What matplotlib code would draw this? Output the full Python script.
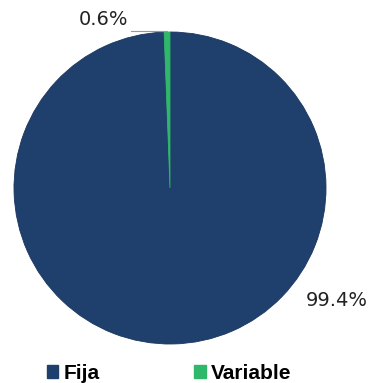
import matplotlib.pyplot as plt
from matplotlib.patches import Patch

labels = ['Fija', 'Variable']
values = [99.4, 0.6]
colors = ['#1f3f6d', '#2fb86a']
pct_labels = ['99.4%', '0.6%']

fig = plt.figure(figsize=(3.72, 3.83), dpi=100)
ax = fig.add_axes([14 / 372, 39 / 383, 312 / 372, 312 / 383])

wedges, _ = ax.pie(values, colors=colors, startangle=90, counterclock=False,
                   radius=1.0, wedgeprops=dict(linewidth=0.6, edgecolor='#1a355d'))
wedges[1].set_edgecolor('#2fb86a')
ax.set_xlim(-1, 1)
ax.set_ylim(-1, 1)
ax.set_aspect('equal')

# percentage labels
ax.text(0.87, -0.72, pct_labels[0], fontsize=14, color='#222222',
        ha='left', va='center', clip_on=False)
ax.text(-0.27, 1.08, pct_labels[1], fontsize=14, color='#222222',
        ha='right', va='center', clip_on=False)
ax.plot([-0.25, -0.02], [1.005, 1.005], color='#999999', lw=0.8, clip_on=False)

handles = [Patch(facecolor=c, edgecolor=c) for c in colors]
fig.legend(handles, labels, loc='center left', bbox_to_anchor=(0.075, 0.025),
           ncol=2, frameon=False, handlelength=0.55, handleheight=0.55,
           handletextpad=0.25, columnspacing=4.55,
           prop=dict(family='Liberation Sans', weight='bold', size=15))

fig.savefig('out.png', dpi=100)
